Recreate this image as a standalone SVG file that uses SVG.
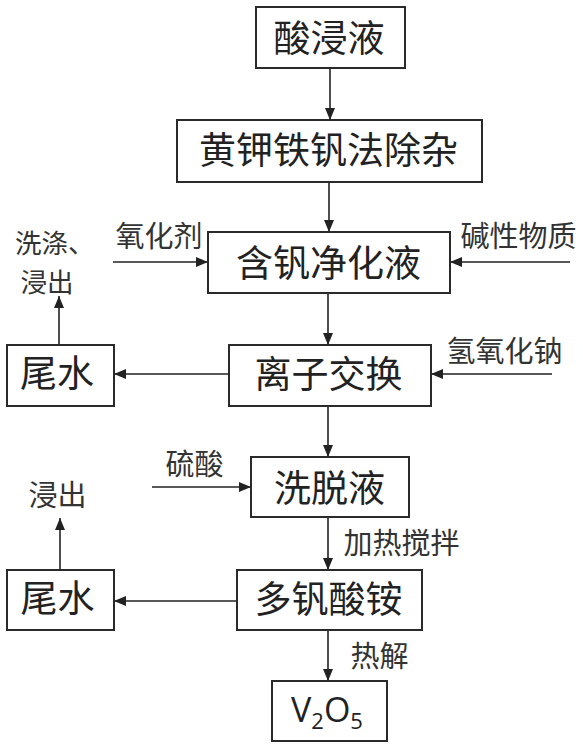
<svg xmlns="http://www.w3.org/2000/svg" width="583" height="750" viewBox="0 0 583 750">
<style>
.box{fill:#fff;stroke:#2a2a2a;stroke-width:2}
.bt{font-family:"Noto Sans CJK SC","Noto Sans",sans-serif;font-size:37px;fill:#222;text-anchor:middle}
.lb{font-family:"Noto Sans CJK SC","Noto Sans",sans-serif;font-size:29px;fill:#333;text-anchor:middle}
.ln{stroke:#222;stroke-width:1.6;fill:none;marker-end:url(#ah)}
.fm{font-family:"Open Sans","Liberation Sans",sans-serif;fill:#222}
</style>
<defs>
<marker id="ah" markerUnits="userSpaceOnUse" markerWidth="12" markerHeight="10" refX="12" refY="5" orient="auto">
<path d="M0,0 L12,5 L0,10 z" fill="#222"/>
</marker>
</defs>
<rect width="583" height="750" fill="#fff"/>
<g id="connectors">
<line class="ln" x1="330" y1="68" x2="330" y2="120"/>
<line class="ln" x1="329" y1="182" x2="329" y2="232"/>
<line class="ln" x1="113" y1="262" x2="208" y2="262"/>
<line class="ln" x1="570" y1="262" x2="450" y2="262"/>
<line class="ln" x1="328" y1="293" x2="328" y2="345"/>
<line class="ln" x1="229" y1="374" x2="114" y2="374"/>
<line class="ln" x1="552" y1="374" x2="431" y2="374"/>
<line class="ln" x1="59" y1="345" x2="59" y2="296"/>
<line class="ln" x1="328" y1="406" x2="328" y2="457"/>
<line class="ln" x1="152" y1="487" x2="251" y2="487"/>
<line class="ln" x1="328" y1="517" x2="328" y2="570"/>
<line class="ln" x1="237" y1="601" x2="114" y2="601"/>
<line class="ln" x1="60" y1="570" x2="60" y2="518"/>
<line class="ln" x1="328" y1="630" x2="328" y2="681"/>
</g>
<g id="n-suanjinye"><rect class="box" x="256" y="7" width="149" height="61"/><text class="bt" x="329" y="51.5">酸浸液</text></g>
<g id="n-chuza"><rect class="box" x="177" y="120" width="305" height="62"/><text class="bt" x="328.5" y="164">黄钾铁钒法除杂</text></g>
<g id="n-jinghuaye"><rect class="box" x="208" y="232" width="242" height="61"/><text class="bt" x="328.5" y="277">含钒净化液</text></g>
<g id="n-lizijiaohuan"><rect class="box" x="229" y="345" width="202" height="61"/><text class="bt" x="328.5" y="387.5">离子交换</text></g>
<g id="n-weishui1"><rect class="box" x="7" y="345" width="107" height="61"/><text class="bt" x="57" y="387">尾水</text></g>
<g id="n-xituoye"><rect class="box" x="251" y="457" width="158" height="60"/><text class="bt" x="329.5" y="501.5">洗脱液</text></g>
<g id="n-duofansuanan"><rect class="box" x="237" y="570" width="185" height="60"/><text class="bt" x="328.5" y="613">多钒酸铵</text></g>
<g id="n-weishui2"><rect class="box" x="7" y="570" width="107" height="60"/><text class="bt" x="57.5" y="612">尾水</text></g>
<g id="n-v2o5"><rect class="box" x="272" y="681" width="115" height="60"/><text class="fm" x="291" y="722" font-size="34">V<tspan font-size="22" dy="7">2</tspan><tspan dy="-7">O</tspan><tspan font-size="22" dy="7">5</tspan></text></g>
<g id="labels">
<text class="lb" x="159" y="247">氧化剂</text>
<text class="lb" x="518.5" y="246.5">碱性物质</text>
<text class="lb" style="text-anchor:start;font-size:26.5px"><tspan x="15" y="253">洗涤、</tspan><tspan x="20.5" y="291.5">浸出</tspan></text>
<text class="lb" x="504.5" y="361.5">氢氧化钠</text>
<text class="lb" x="194.5" y="474.5">硫酸</text>
<text class="lb" x="57.5" y="506">浸出</text>
<text class="lb" x="401.5" y="553.5">加热搅拌</text>
<text class="lb" x="379.5" y="666.5">热解</text>
</g>
</svg>
